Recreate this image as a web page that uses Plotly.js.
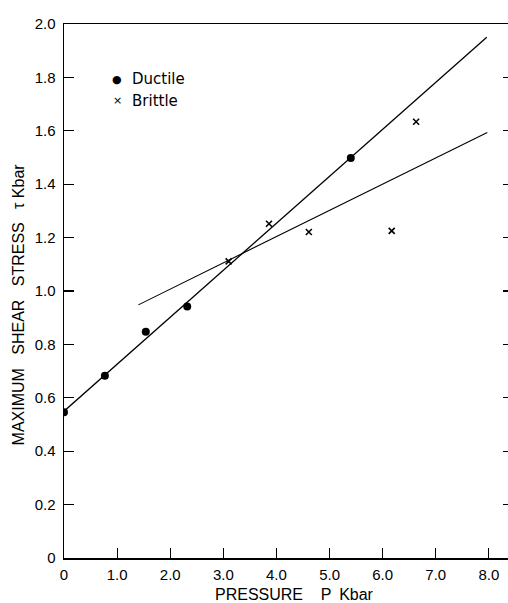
<!DOCTYPE html>
<html>
<head>
<meta charset="utf-8">
<script src="https://cdn.plot.ly/plotly-3.0.1.min.js"></script>
<style>html,body{margin:0;padding:0;background:#fff;}#chart{width:508px;height:603px;}</style>
</head>
<body>
<div id="chart"></div>
<script>
// Data
const ductileP = [0, 0.77, 1.54, 2.32, 5.40];
const ductileTau = [0.546, 0.683, 0.847, 0.942, 1.498];
const brittleP = [3.10, 3.86, 4.61, 6.17, 6.63];
const brittleTau = [1.111, 1.252, 1.221, 1.225, 1.634];
// Fitted lines (endpoints as drawn)
const ductileFitP = [0, 7.96];
const ductileFitTau = [0.55, 1.95];
const brittleFitP = [1.40, 7.97];
const brittleFitTau = [0.948, 1.594];
// Tick labels
const xTickVals = [0, 1, 2, 3, 4, 5, 6, 7, 8];
const xTickText = ["0", "1.0", "2.0", "3.0", "4.0", "5.0", "6.0", "7.0", "8.0"];
const yTickVals = [0, 0.2, 0.4, 0.6, 0.8, 1.0, 1.2, 1.4, 1.6, 1.8, 2.0];
const yTickText = ["0", "0.2", "0.4", "0.6", "0.8", "1.0", "1.2", "1.4", "1.6", "1.8", "2.0"];
const rightTickVals = [0.2, 0.4, 0.6, 0.8, 1.0, 1.2, 1.4, 1.6, 1.8];
const seriesNames = ["Ductile", "Brittle"];

const FONT = "Liberation Sans, Arial, sans-serif";
const LFONT = "DejaVu Sans, sans-serif";
const nb = "\u00a0";
const gap = nb + nb + nb;

const traces = [
  {x: ductileFitP, y: ductileFitTau, mode: "lines", line: {color: "#000", width: 1.3}, showlegend: false, hoverinfo: "skip"},
  {x: brittleFitP, y: brittleFitTau, mode: "lines", line: {color: "#000", width: 1.1}, showlegend: false, hoverinfo: "skip"},
  {x: ductileP, y: ductileTau, mode: "markers", name: seriesNames[0],
   marker: {symbol: "circle", size: 8, color: "#000"}, showlegend: false},
  {x: brittleP, y: brittleTau, mode: "markers", name: seriesNames[1],
   marker: {symbol: "x-thin-open", size: 6, color: "#000", line: {color: "#000", width: 1.6}}, showlegend: false},
  {x: [0], y: [0], yaxis: "y2", mode: "markers", marker: {opacity: 0}, showlegend: false, hoverinfo: "skip"}
];

const layout = {
  width: 508, height: 603,
  margin: {l: 64, r: 0, t: 24, b: 45, pad: 0},
  paper_bgcolor: "#fff", plot_bgcolor: "#fff",
  font: {family: FONT, color: "#000", size: 15},
  showlegend: false,
  xaxis: {
    range: [0, 8.36], showgrid: false, zeroline: false,
    showline: true, linecolor: "#000", linewidth: 1.5, mirror: true,
    ticks: "inside", ticklen: 10, tickwidth: 1.2, tickcolor: "#000",
    tickvals: xTickVals, ticktext: xTickText,
    tickfont: {family: FONT, size: 15, color: "#000"},
    ticklabelstandoff: 2,
    automargin: false, fixedrange: true
  },
  yaxis: {
    range: [0, 2.0], showgrid: false, zeroline: false,
    showline: true, linecolor: "#000", linewidth: 1.5, mirror: false,
    ticks: "inside", ticklen: 10, tickwidth: 1.2, tickcolor: "#000",
    tickvals: yTickVals, ticktext: yTickText,
    tickfont: {family: FONT, size: 15, color: "#000"},
    ticklabelstandoff: 4,
    automargin: false, fixedrange: true
  },
  yaxis2: {
    overlaying: "y", side: "right", anchor: "x",
    range: [0, 2.0], showgrid: false, zeroline: false, showline: false,
    ticks: "inside", ticklen: 5, tickwidth: 1.2, tickcolor: "#000",
    tickvals: rightTickVals, showticklabels: false, fixedrange: true
  },
  annotations: [
    // axis titles
    {xref: "paper", yref: "paper", x: 0, y: 0, xshift: 149, yshift: -36, xanchor: "left", yanchor: "middle", showarrow: false,
     text: "PRESSURE" + nb+nb+nb+nb + "P" + nb + "\u2009" + "Kbar", font: {family: FONT, size: 16, color: "#000"}},
    {xref: "paper", yref: "y", x: 0, y: 0.948, xshift: -45.5, xanchor: "center", yanchor: "middle", showarrow: false, textangle: -90,
     text: "MAXIMUM" + gap + "SHEAR" + gap + "STRESS" + gap + "\u03c4" + nb + "Kbar", font: {family: FONT, size: 16, color: "#000"}},
    // legend key
    {xref: "paper", yref: "y", x: 0, y: 1.794, xshift: 53, xanchor: "center", yanchor: "middle", showarrow: false,
     text: "\u25cf", font: {family: LFONT, size: 11, color: "#000"}},
    {xref: "paper", yref: "y", x: 0, y: 1.794, xshift: 66, xanchor: "left", yanchor: "middle", showarrow: false,
     text: seriesNames[0], font: {family: LFONT, size: 15, color: "#000"}},
    {xref: "paper", yref: "y", x: 0, y: 1.713, xshift: 53, xanchor: "center", yanchor: "middle", showarrow: false,
     text: "\u00d7", font: {family: LFONT, size: 11, color: "#000"}},
    {xref: "paper", yref: "y", x: 0, y: 1.713, xshift: 66, xanchor: "left", yanchor: "middle", showarrow: false,
     text: seriesNames[1], font: {family: LFONT, size: 15, color: "#000"}}
  ]
};

Plotly.newPlot("chart", traces, layout, {staticPlot: true, displayModeBar: false});
</script>
</body>
</html>
